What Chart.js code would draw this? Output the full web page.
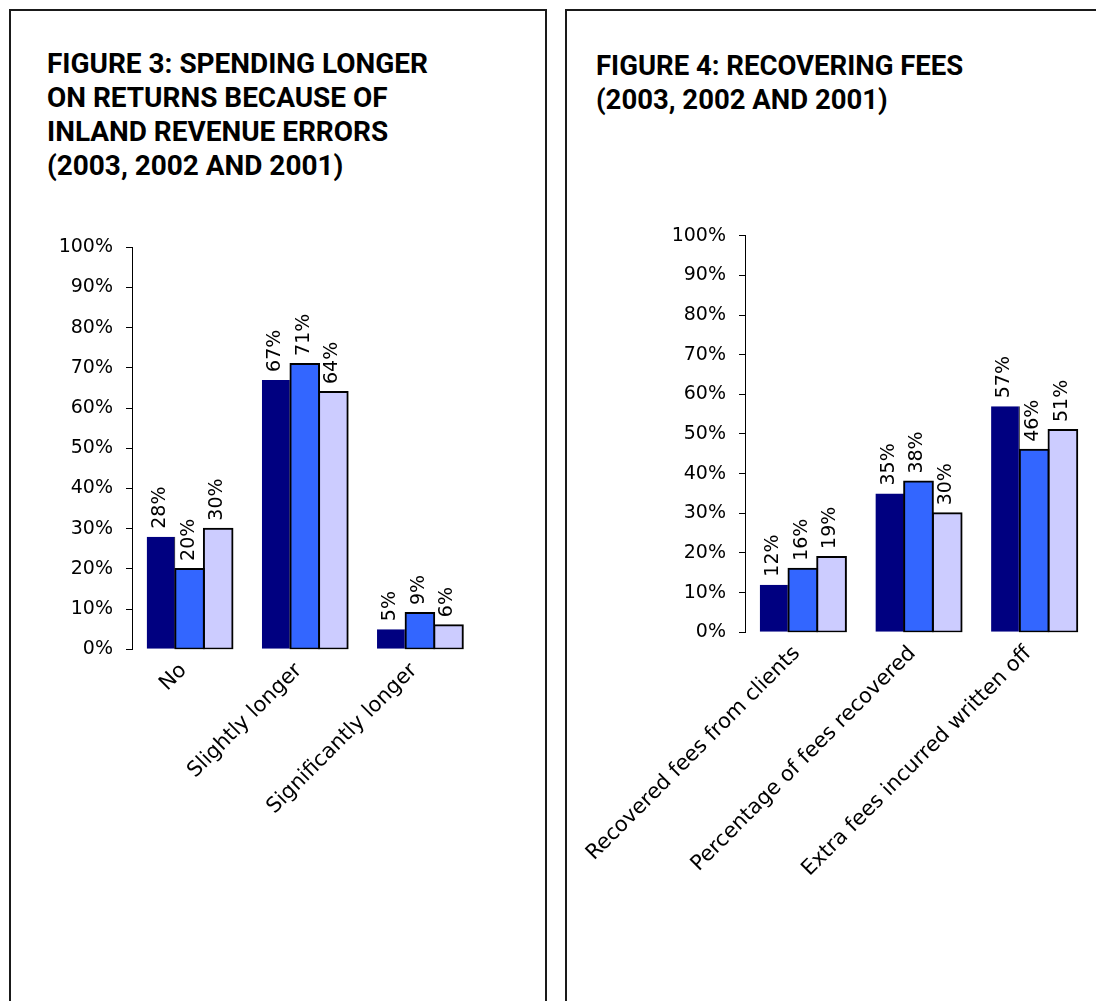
<!DOCTYPE html>
<html>
<head>
<meta charset="utf-8">
<script src="https://cdn.jsdelivr.net/npm/chart.js@4.4.0/dist/chart.umd.min.js"></script>
<style>
  html, body { margin: 0; padding: 0; background: #fff; }
  body { width: 1096px; height: 1001px; overflow: hidden; position: relative; }
  .panel { position: absolute; box-sizing: border-box; border: 2px solid #1a1a1a; }
  #panel3 { left: 9px; top: 9px; width: 538px; height: 1100px; }
  #panel4 { left: 565px; top: 9px; width: 600px; height: 1100px; }
  .title {
    position: absolute; font-family: Roboto, sans-serif; font-weight: 700;
    font-size: 28px; line-height: 34px; color: #000; white-space: nowrap;
    transform-origin: 0 0;
  }
  canvas { position: absolute; }
  #chart3 { left: 20px; top: 215px; }
  #chart4 { left: 570px; top: 205px; }
</style>
</head>
<body>
<div class="panel" id="panel3"></div>
<div class="panel" id="panel4"></div>
<div class="title" id="title3"></div>
<div class="title" id="title4"></div>
<canvas id="chart3" width="480" height="700"></canvas>
<canvas id="chart4" width="526" height="720"></canvas>

<script>
// ---- Data ----
const seriesNames = ['2003', '2002', '2001'];

const fig3Title = ['FIGURE 3: SPENDING LONGER', 'ON RETURNS BECAUSE OF', 'INLAND REVENUE ERRORS', '(2003, 2002 AND 2001)'];
const fig3Categories = ['No', 'Slightly longer', 'Significantly longer'];
const fig3Values2003 = [28, 67, 5];
const fig3Values2002 = [20, 71, 9];
const fig3Values2001 = [30, 64, 6];

const fig4Title = ['FIGURE 4: RECOVERING FEES', '(2003, 2002 AND 2001)'];
const fig4Categories = ['Recovered fees from clients', 'Percentage of fees recovered', 'Extra fees incurred written off'];
const fig4Values2003 = [12, 35, 57];
const fig4Values2002 = [16, 38, 46];
const fig4Values2001 = [19, 30, 51];

const axisMin = 0, axisMax = 100, axisStep = 10;

// ---- Styles ----
const seriesFill = ['#000080', '#3366FF', '#CCCCFF'];
const NUM_FONT = { family: 'DejaVu Sans', size: 19 };
const CAT_FONT = { family: 'DejaVu Sans', size: 21 };

// ---- Titles ----
function placeTitle(el, lines, inkLeft, inkWidth, baseline) {
  const c = document.createElement('canvas').getContext('2d');
  c.font = 'bold 28px Roboto';
  const m = c.measureText(lines[0]);
  const ink = m.actualBoundingBoxLeft + m.actualBoundingBoxRight;
  const s = inkWidth / ink;
  const asc = m.fontBoundingBoxAscent, desc = m.fontBoundingBoxDescent;
  const top = baseline - (34 - (asc + desc)) / 2 - asc;
  lines.forEach(t => { const d = document.createElement('div'); d.textContent = t; el.appendChild(d); });
  el.style.transform = 'scaleX(' + s + ')';
  el.style.left = (inkLeft + m.actualBoundingBoxLeft * s) + 'px';
  el.style.top = top + 'px';
}
placeTitle(document.getElementById('title3'), fig3Title, 48.3, 380, 73.5);
placeTitle(document.getElementById('title4'), fig4Title, 597.3, 366, 75);

// ---- Value labels drawn above each bar, reading upward ----
const barValueLabels = {
  id: 'barValueLabels',
  afterDatasetsDraw(chart) {
    const ctx = chart.ctx;
    ctx.save();
    ctx.font = NUM_FONT.size + 'px "' + NUM_FONT.family + '"';
    ctx.fillStyle = '#000';
    ctx.textAlign = 'left';
    ctx.textBaseline = 'middle';
    chart.data.datasets.forEach((ds, di) => {
      chart.getDatasetMeta(di).data.forEach((bar, i) => {
        ctx.save();
        ctx.translate(bar.x - 1, bar.y - 8);
        ctx.rotate(-Math.PI / 2);
        ctx.fillText(ds.data[i] + '%', 0, 0);
        ctx.restore();
      });
    });
    ctx.restore();
  }
};

function makeDatasets(valueSets) {
  return valueSets.map((vals, k) => ({
    label: seriesNames[k],
    data: vals,
    backgroundColor: seriesFill[k],
    borderColor: '#000',
    borderWidth: k === 0 ? { top: 0, left: 0, bottom: 0, right: 1 } : 2,
    borderSkipped: false,
    inflateAmount: k === 0 ? 0 : 1,
    categoryPercentage: 0.745,
    barPercentage: 1
  }));
}

function makeChart(canvasId, categories, valueSets, geo) {
  return new Chart(document.getElementById(canvasId), {
    type: 'bar',
    data: { labels: categories, datasets: makeDatasets(valueSets) },
    plugins: [barValueLabels],
    options: {
      responsive: false,
      animation: false,
      events: [],
      layout: { padding: { top: geo.padTop, right: geo.padRight, bottom: 0, left: 0 } },
      plugins: { legend: { display: false }, tooltip: { enabled: false } },
      scales: {
        x: {
          grid: { display: false, drawTicks: false },
          border: { display: false },
          ticks: {
            autoSkip: false, minRotation: 45, maxRotation: 45,
            padding: 9, labelOffset: -6,
            color: '#000', font: CAT_FONT
          },
          afterFit(scale) {
            scale.height = geo.xHeight;
            // the slanted labels may run left past the plot; the axis column is wide enough
            scale.paddingLeft = 0;
            scale.paddingRight = 0;
          }
        },
        y: {
          min: axisMin, max: axisMax,
          grid: { drawOnChartArea: false, drawTicks: true, tickLength: 6, color: '#000', lineWidth: 1 },
          border: { display: true, color: '#000', width: 1 },
          ticks: {
            stepSize: axisStep, padding: 13, color: '#000', font: NUM_FONT,
            callback: v => v + '%'
          },
          afterFit(scale) { scale.width = geo.yWidth; }
        }
      }
    }
  });
}

makeChart('chart3', fig3Categories, [fig3Values2003, fig3Values2002, fig3Values2001],
  { padTop: 32.3, padRight: 22.5, xHeight: 700 - 649.3 + 215, yWidth: 112 });
makeChart('chart4', fig4Categories, [fig4Values2003, fig4Values2002, fig4Values2001],
  { padTop: 30.7, padRight: 4, xHeight: 720 - 632.3 + 205, yWidth: 175 });
</script>
</body>
</html>
